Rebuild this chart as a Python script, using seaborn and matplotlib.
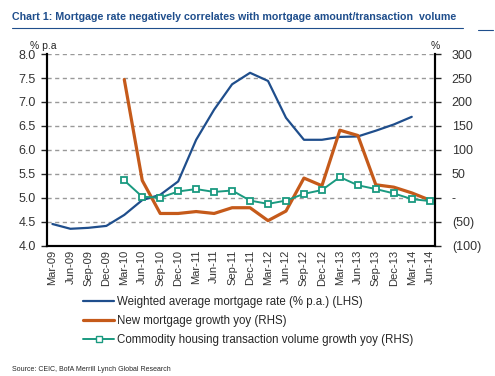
import matplotlib
matplotlib.use('Agg')
import matplotlib.pyplot as plt
import pandas as pd
import seaborn as sns
from matplotlib.lines import Line2D

# ---------------------------
# Data (quarterly)
# ---------------------------
quarters = ["Mar-09", "Jun-09", "Sep-09", "Dec-09", "Mar-10", "Jun-10", "Sep-10", "Dec-10",
            "Mar-11", "Jun-11", "Sep-11", "Dec-11", "Mar-12", "Jun-12", "Sep-12", "Dec-12",
            "Mar-13", "Jun-13", "Sep-13", "Dec-13", "Mar-14", "Jun-14"]

mortgage_rate = [4.45, 4.35, 4.37, 4.41, 4.64, 4.95, 5.06, 5.34,
                 6.21, 6.84, 7.37, 7.61, 7.44, 6.67, 6.21, 6.21,
                 6.27, 6.28, 6.40, 6.53, 6.69, None]

new_mortgage = [None, None, None, None, 247, 36, -33, -33,
                -29, -33, -21, -21, -48, -28, 41, 25,
                141, 130, 27, 22, 10, -5]

housing_volume = [None, None, None, None, 36, 2, 0, 13,
                  18, 12, 15, -6, -13, -6, 8, 16,
                  43, 26, 18, 9, -3, -7]

df = pd.DataFrame({
    "Quarter": quarters,
    "Rate": mortgage_rate,
    "NewMortgage": new_mortgage,
    "Volume": housing_volume,
})
df["pos"] = range(len(df))

BLUE = "#1F4E8C"
ORANGE = "#C55A1A"
TEAL = "#1A9A80"
TXT = "#333333"

sns.set_style("white")
plt.rcParams['font.family'] = ['Liberation Sans', 'DejaVu Sans']

fig = plt.figure(figsize=(4.95, 3.76), dpi=100)
ax = fig.add_axes([0.095, 0.347, 0.784, 0.509])
ax2 = ax.twinx()

sns.lineplot(data=df, x="pos", y="Rate", ax=ax, color=BLUE, linewidth=1.6)
sns.lineplot(data=df, x="pos", y="NewMortgage", ax=ax2, color=ORANGE, linewidth=2.3)
sns.lineplot(data=df, x="pos", y="Volume", ax=ax2, color=TEAL, linewidth=1.4,
             marker="s", markersize=5, markerfacecolor="white",
             markeredgecolor=TEAL, markeredgewidth=1.3)

ax.set_ylim(4.0, 8.0)
ax2.set_ylim(-100, 300)
ax.set_xlim(-0.3, len(quarters) - 0.7)

ax.set_yticks([4.0 + 0.5 * i for i in range(9)])
ax.set_yticklabels([f"{4.0 + 0.5 * i:.1f}" for i in range(9)], fontsize=9, color=TXT)
rhs = [-100, -50, 0, 50, 100, 150, 200, 250, 300]
ax2.set_yticks(rhs)
ax2.set_yticklabels(["(100)", "(50)", "-", "50", "100", "150", "200", "250", "300"],
                    fontsize=9, color=TXT)

ax.set_xticks(df["pos"])
ax.set_xticklabels(quarters, rotation=90, fontsize=8, color=TXT)

for y in [4.5 + 0.5 * i for i in range(8)]:
    ax.axhline(y, color="#999999", linestyle=(0, (3, 2.5)), linewidth=1.0, zorder=0)

ax.set_xlabel("")
ax.set_ylabel("")
ax2.set_ylabel("")

for a in (ax, ax2):
    a.spines["top"].set_visible(False)
    a.spines["left"].set_linewidth(1.5)
    a.spines["right"].set_linewidth(1.5)
    a.spines["bottom"].set_linewidth(1.5)
    for s in a.spines.values():
        s.set_color("black")
ax.tick_params(axis="y", direction="out", length=4, width=1, pad=4, left=True)
ax2.tick_params(axis="y", direction="out", length=4, width=1, pad=8, right=True)
ax.tick_params(axis="x", length=0, pad=3)

ax.text(-0.01, 1.015, "% p.a", transform=ax.transAxes, fontsize=7.5, ha="center", va="bottom")
ax2.text(1.0, 1.015, "%", transform=ax2.transAxes, fontsize=7.5, ha="center", va="bottom")

handles = [
    Line2D([], [], color=BLUE, linewidth=1.6),
    Line2D([], [], color=ORANGE, linewidth=2.3),
    Line2D([], [], color=TEAL, linewidth=1.4, marker="s", markersize=4,
           markerfacecolor="white", markeredgecolor=TEAL),
]
labels = ["Weighted average mortgage rate (% p.a.) (LHS)",
          "New mortgage growth yoy (RHS)",
          "Commodity housing transaction volume growth yoy (RHS)"]
fig.legend(handles, labels, loc="upper left", bbox_to_anchor=(0.168, 0.212),
           frameon=False, fontsize=8.3, handlelength=2.7, handletextpad=0.2,
           labelspacing=0.6, borderaxespad=0, borderpad=0)

fig.text(0.025, 0.955, "Chart 1: Mortgage rate negatively correlates with mortgage amount/transaction  volume",
         fontsize=7.7, fontweight="bold", color=BLUE, ha="left", va="center",
         family=["Liberation Sans Narrow", "Liberation Sans", "DejaVu Sans"])
fig.add_artist(Line2D([0.025, 0.935], [0.925, 0.925], color=BLUE, linewidth=0.8))
fig.add_artist(Line2D([0.965, 0.995], [0.92, 0.92], color=BLUE, linewidth=0.8))

fig.text(0.025, 0.008, "Source: CEIC, BofA Merrill Lynch Global Research",
         fontsize=5, ha="left", va="bottom",
         family=["Liberation Sans Narrow", "Liberation Sans", "DejaVu Sans"])

fig.savefig("out.png", dpi=100)
